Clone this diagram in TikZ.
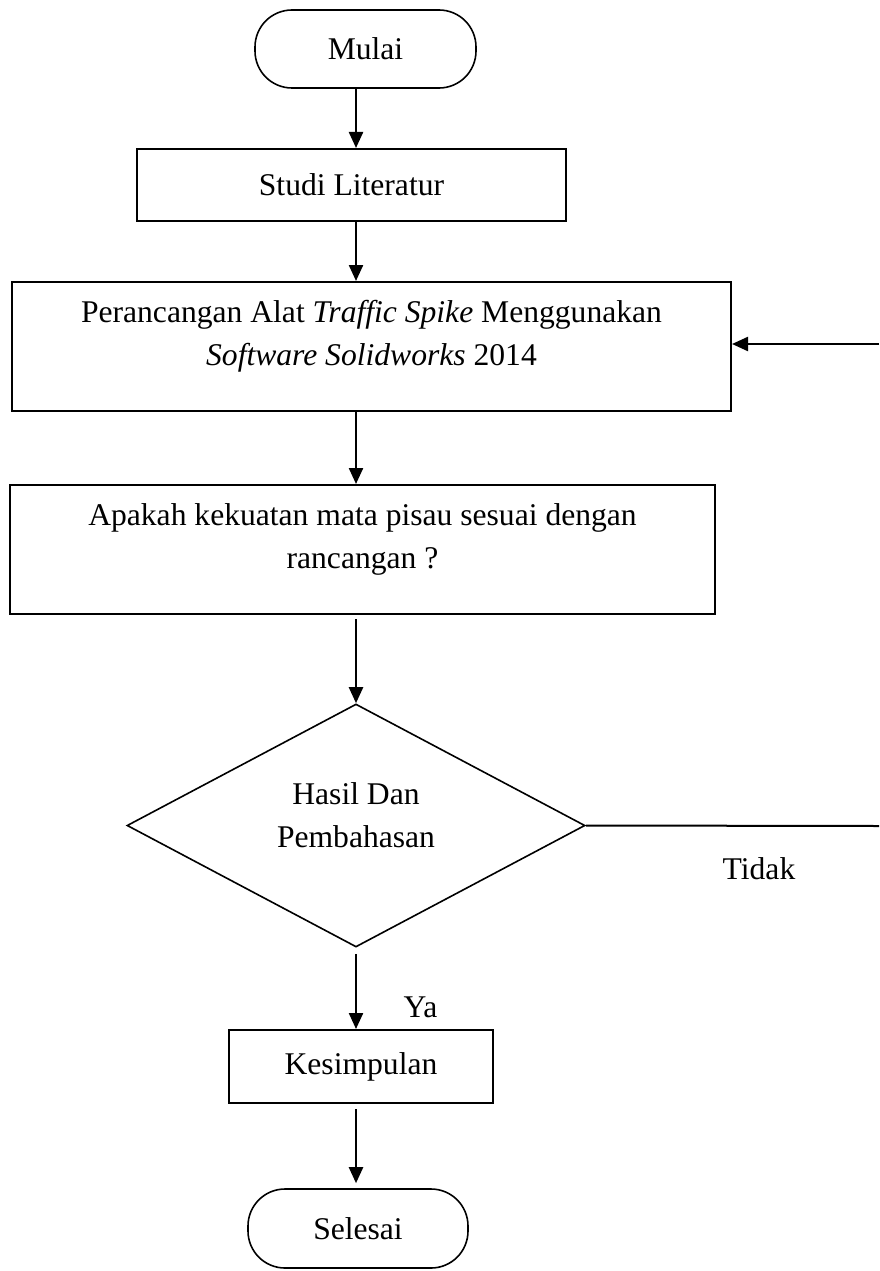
\documentclass[tikz,border=0pt]{standalone}
\usepackage{fontspec}
\setmainfont{Liberation Serif}
\usetikzlibrary{shapes.geometric,arrows.meta}

\tikzset{
  flowtext/.style={font={\fontsize{31.6}{43}\selectfont}, align=center, inner sep=0pt},
  terminal/.style={draw, line width=1.6pt, rounded corners=37pt, inner sep=0pt,
    font={\fontsize{31.6}{43}\selectfont}},
  procbox/.style={draw, rectangle, line width=2pt, inner sep=0pt,
    font={\fontsize{31.6}{43}\selectfont}},
  decision/.style={draw, diamond, line width=1.6pt, inner sep=0pt},
  flowarrow/.style={line width=2.3pt, -{Triangle[length=16pt,width=14pt]}},
  flowline/.style={line width=2pt}
}

\begin{document}
\begin{tikzpicture}[x=1pt, y=-1pt]

    \useasboundingbox (0,0) rectangle (879,1271);

    % ============================================================
    % START AND LITERATURE
    % ============================================================
    \node[terminal, minimum width=221, minimum height=78] (mulai)
        at (365.5,49) {Mulai};
    \node[procbox, minimum width=429, minimum height=72] (studi)
        at (351.5,185) {Studi Literatur};

    % ============================================================
    % DESIGN AND CHECK
    % ============================================================
    \node[procbox, minimum width=719, minimum height=129] (rancang)
        at (371.5,346.5) {};
    \node[flowtext] (rancangtext) at ([yshift=10.5pt]rancang.center)
        {Perancangan Alat \textit{Traffic Spike} Menggunakan\\
         \textit{Software Solidworks} 2014};

    \node[procbox, minimum width=705, minimum height=129] (apakah)
        at (362.5,549.5) {};
    \node[flowtext] (apakahtext) at ([yshift=10.5pt]apakah.center)
        {Apakah kekuatan mata pisau sesuai dengan\\ rancangan ?};

    % ============================================================
    % DECISION
    % ============================================================
    \node[decision, minimum width=458, minimum height=243] (hasil)
        at (356,825.5) {};
    \node[flowtext] (hasiltext) at ([yshift=10.5pt]hasil.center)
        {Hasil Dan\\ Pembahasan};

    \node[flowtext] (tidak) at (759,869) {Tidak};
    \node[flowtext] (ya) at (420.5,1007) {Ya};

    % ============================================================
    % CONCLUSION AND END
    % ============================================================
    \node[procbox, minimum width=264, minimum height=73] (kesimpulan)
        at (361,1066.5) {Kesimpulan};
    \node[terminal, minimum width=220, minimum height=79] (selesai)
        at (358,1228.5) {Selesai};

    % ============================================================
    % CONNECTORS
    % ============================================================
    \coordinate (spine) at (356,0);
    \coordinate (fbtop) at (879,344);
    \coordinate (fbbottom) at (879,826);

    \draw[flowarrow] (mulai.south -| spine) -- (studi.north -| spine);
    \draw[flowarrow] (studi.south -| spine) -- (rancang.north -| spine);
    \draw[flowarrow] (rancang.south -| spine) -- (apakah.north -| spine);
    \draw[flowarrow, shorten <=4pt] (apakah.south -| spine) -- (hasil.north);
    \draw[flowarrow, shorten <=6pt] (hasil.south) -- (kesimpulan.north -| spine);
    \draw[flowarrow, shorten <=5pt, shorten >=5pt]
        (kesimpulan.south -| spine) -- (selesai.north -| spine);

    % feedback (Tidak)
    \draw[flowline] (hasil.east) -- (fbbottom);
    \draw[flowarrow] (fbtop) -- (fbtop -| rancang.east);

\end{tikzpicture}
\end{document}
